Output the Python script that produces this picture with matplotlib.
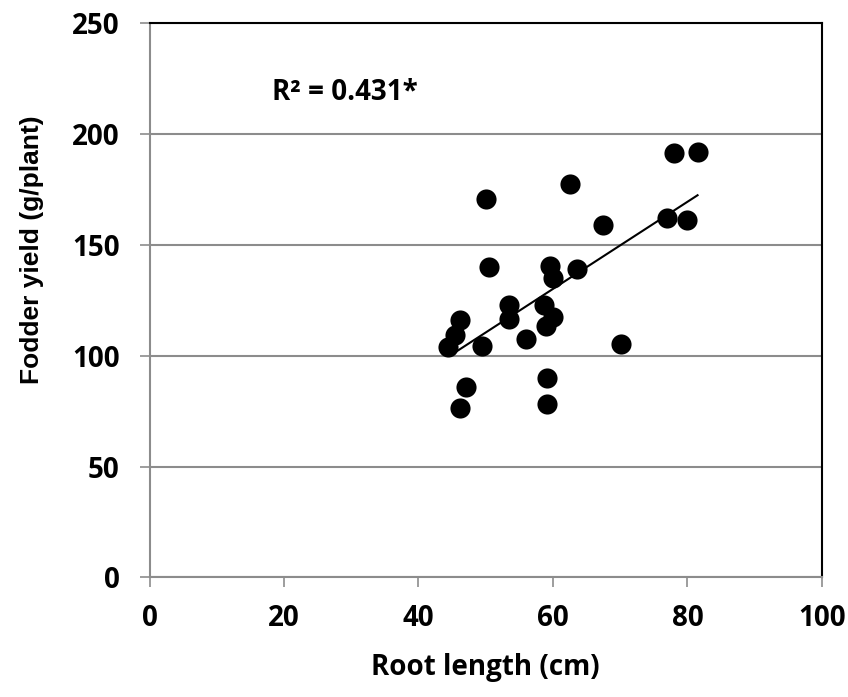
import numpy as np
import matplotlib
matplotlib.use("Agg")
import matplotlib.pyplot as plt

# Root length (cm) and fodder yield (g/plant) per genotype
root_length = [78.0, 81.5, 62.5, 50.0, 67.5, 77.0, 80.0, 50.5, 59.5, 60.0,
               63.5, 53.5, 53.5, 58.6, 60.0, 59.0, 46.1, 45.4, 44.4, 49.5,
               56.0, 70.1, 47.1, 46.1, 59.1, 59.1]
fodder_yield = [191.6, 191.9, 177.5, 170.6, 159.0, 162.0, 161.1, 140.2, 140.5, 135.2,
                139.1, 122.9, 116.6, 122.9, 117.6, 113.4, 116.1, 109.3, 104.1, 104.4,
                107.5, 105.1, 86.0, 76.5, 89.8, 78.1]
x_ticks = [0, 20, 40, 60, 80, 100]
y_ticks = [0, 50, 100, 150, 200, 250]
r2_label = "R\u00b2 = 0.431*"

main_font = "Open Sans"
grid_gray = "#8c8c8c"
fs = 20

fig = plt.figure(figsize=(8.48, 6.97), dpi=100)
ax = fig.add_axes([0.1763, 0.1717, 0.7930, 0.7950])

ax.set_xlim(0, 100)
ax.set_ylim(0, 250)
ax.set_xticks(x_ticks)
ax.set_yticks(y_ticks)
ax.set_xticklabels([str(t) for t in x_ticks], fontfamily=main_font,
                   fontweight="bold", fontsize=fs)
ax.set_yticklabels([str(t) for t in y_ticks], fontfamily=main_font,
                   fontweight="bold", fontsize=fs)
ax.tick_params(axis="both", direction="out", length=7.5, width=1.2,
               color=grid_gray)
ax.tick_params(axis="x", pad=12)
ax.tick_params(axis="y", pad=14)

ax.yaxis.grid(True, color=grid_gray, linewidth=1.5)
ax.set_axisbelow(True)

for side in ("left", "bottom"):
    ax.spines[side].set_color(grid_gray)
    ax.spines[side].set_linewidth(1.5)
for side in ("top", "right"):
    ax.spines[side].set_color("black")
    ax.spines[side].set_linewidth(1.5)

ax.scatter(root_length, fodder_yield, s=210, color="black", zorder=3,
           linewidths=0)

# Linear trend line over the observed range
xs = np.array(root_length)
ys = np.array(fodder_yield)
slope, intercept = np.polyfit(xs, ys, 1)
xl = np.array([xs.min() + 1.3, xs.max()])
ax.plot(xl, slope * xl + intercept, color="black", linewidth=1.5, zorder=4)

ax.text(0.182, 0.875, r2_label, transform=ax.transAxes, fontfamily=main_font,
        fontweight="bold", fontsize=fs, ha="left", va="center")

ax.set_xlabel("Root length (cm)", fontfamily=main_font, fontweight="bold",
              fontsize=fs, labelpad=14)
ax.set_ylabel("Fodder yield (g/plant)", fontfamily="Liberation Sans",
              fontweight="bold", fontsize=19)
ax.yaxis.set_label_coords(-0.157, 0.591)

fig.savefig("out.png", dpi=100)
